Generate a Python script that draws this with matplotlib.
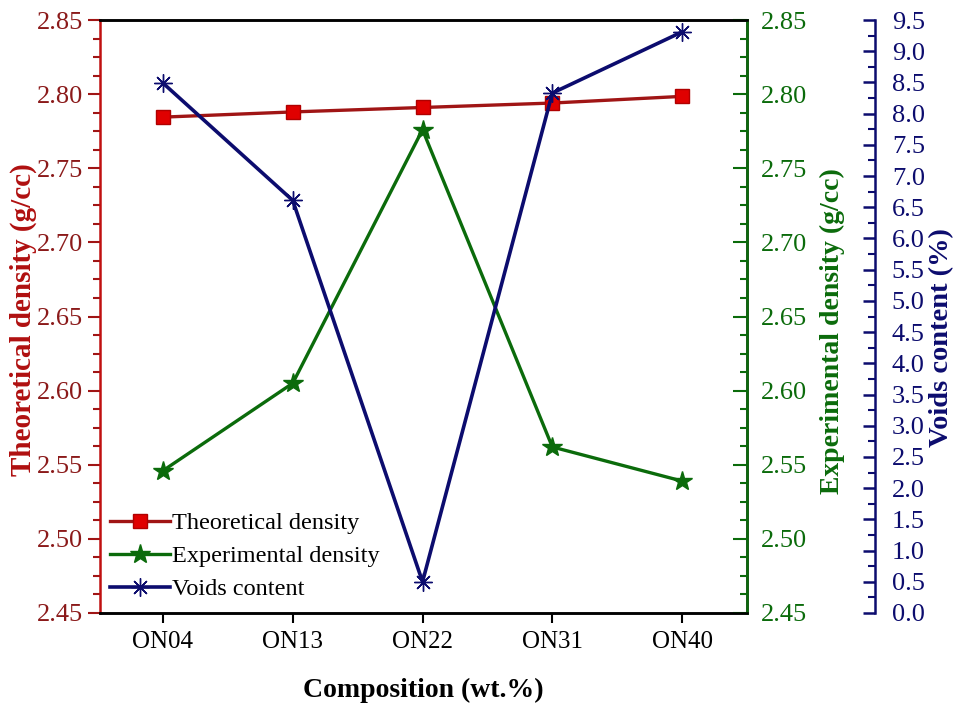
import matplotlib.pyplot as plt
from matplotlib.ticker import MultipleLocator, AutoMinorLocator

plt.rcParams["font.family"] = ["Liberation Serif", "DejaVu Serif"]

compositions = ["ON04", "ON13", "ON22", "ON31", "ON40"]
theoretical_density = [2.7845, 2.788, 2.791, 2.794, 2.7985]
experimental_density = [2.546, 2.605, 2.776, 2.562, 2.539]
voids_content = [8.49, 6.61, 0.50, 8.33, 9.31]

RED = "#a01515"
RED_LABEL = "#8b1a1a"
GREEN = "#0b6b0b"
NAVY = "#0c0c6e"

fig = plt.figure(figsize=(9.56, 7.05), dpi=100)
ax = fig.add_axes([0.1046, 0.1305, 0.6768, 0.8411])
ax2 = ax.twinx()
ax3 = ax.twinx()
ax3.spines["right"].set_position(("axes", 1.198))

x = list(range(len(compositions)))

l1, = ax.plot(x, theoretical_density, color=RED, lw=2.4, marker="s",
              markersize=10, markerfacecolor="#e00000", markeredgecolor="#b00000",
              label="Theoretical density")
l2, = ax2.plot(x, experimental_density, color=GREEN, lw=2.4, marker="*",
               markersize=15, markerfacecolor=GREEN, markeredgecolor=GREEN,
               label="Experimental density")
l3, = ax3.plot(x, voids_content, color=NAVY, lw=2.6, marker=(8, 2, 0),
               markersize=13, markeredgewidth=1.0, markeredgecolor=NAVY,
               label="Voids content")

ax.set_xlim(-0.485, 4.5)
ax.set_xticks(x)
ax.set_xticklabels(compositions)
ax.tick_params(axis="x", direction="out", length=7, width=1.5, labelsize=18, pad=6)

# left axis
ax.set_ylim(2.45, 2.85)
ax.yaxis.set_major_locator(MultipleLocator(0.05))
ax.yaxis.set_minor_locator(AutoMinorLocator(4))
ax.tick_params(axis="y", which="major", direction="out", length=9, width=1.5,
               colors=RED, labelcolor=RED_LABEL, labelsize=19)
ax.tick_params(axis="y", which="minor", direction="out", length=5, width=1.5, colors=RED)
ax.yaxis.set_major_formatter(plt.FormatStrFormatter("%.2f"))
ax.set_ylabel("Theoretical density (g/cc)", color="#b01010", fontsize=21,
              fontweight="bold")
ax.yaxis.set_label_coords(-0.097, 0.494)

# experimental axis
ax2.set_ylim(2.45, 2.85)
ax2.yaxis.set_major_locator(MultipleLocator(0.05))
ax2.yaxis.set_minor_locator(AutoMinorLocator(4))
ax2.yaxis.set_major_formatter(plt.FormatStrFormatter("%.2f"))
ax2.tick_params(axis="y", which="major", direction="in", length=10, width=1.5,
                colors=GREEN, labelcolor=GREEN, labelsize=19, pad=10)
ax2.tick_params(axis="y", which="minor", direction="in", length=5, width=1.5, colors=GREEN)
ax2.set_ylabel("Experimental density (g/cc)", color=GREEN, fontsize=20,
               fontweight="bold")
ax2.yaxis.set_label_coords(1.113, 0.476)

# voids axis
ax3.set_ylim(0, 9.5)
ax3.yaxis.set_major_locator(MultipleLocator(0.5))
ax3.yaxis.set_minor_locator(AutoMinorLocator(2))
ax3.yaxis.set_major_formatter(plt.FormatStrFormatter("%.1f"))
ax3.tick_params(axis="y", which="major", direction="in", length=9, width=1.8,
                colors=NAVY, labelcolor=NAVY, labelsize=19, pad=12)
ax3.tick_params(axis="y", which="minor", direction="in", length=5, width=1.5, colors=NAVY)
ax3.set_ylabel("Voids content (%)", color=NAVY, fontsize=20.5, fontweight="bold")
ax3.yaxis.set_label_coords(1.281, 0.464)

for a in (ax, ax2, ax3):
    for s in a.spines.values():
        s.set_linewidth(1.8)
ax.spines["left"].set_color("#c01010")
ax2.spines["left"].set_visible(False)
ax3.spines["left"].set_visible(False)
ax2.spines["right"].set_color(GREEN)
ax3.spines["right"].set_color(NAVY)
ax3.spines["top"].set_visible(False)
ax3.spines["bottom"].set_visible(False)

ax.set_xlabel("Composition (wt.%)", fontsize=20, fontweight="bold")
ax.xaxis.set_label_coords(0.5, -0.110)

leg = ax.legend(handles=[l1, l2, l3], loc="lower left", frameon=False,
                fontsize=17.5, handlelength=2.5, handletextpad=0.05,
                borderaxespad=0.0, labelspacing=0.45, bbox_to_anchor=(0.0, 0.005))

fig.savefig("out.png", dpi=100)
